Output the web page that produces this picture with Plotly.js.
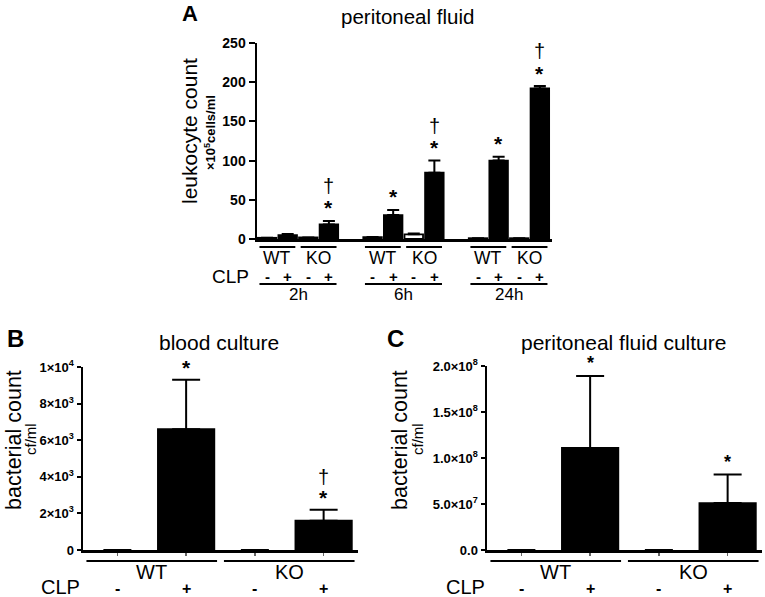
<!DOCTYPE html>
<html>
<head>
<meta charset="utf-8">
<script src="https://cdn.plot.ly/plotly-3.0.1.min.js"></script>
<style>html,body{margin:0;padding:0;background:#fff;}#chart{width:765px;height:597px;}</style>
</head>
<body>
<div id="chart"></div>
<script>
// ---------- data ----------
const timeLabels = ['2h', '6h', '24h'];
const genotypeLabels = ['WT', 'KO'];
const clpLabels = ['-', '+'];

// Panel A: leukocyte count (x10^5 cells/ml), order per time: WT-, WT+, KO-, KO+
const leukoMean = [1.5, 5, 2, 18.5, 2.5, 30.5, 6, 84.5, 1, 100, 1, 192];
const leukoSem = [null, 1.5, null, 4.5, null, 6.5, 1, 15.5, null, 5, null, 3];
const leukoStar = [0, 0, 0, 1, 0, 1, 0, 1, 0, 1, 0, 1];
const leukoDagger = [0, 0, 0, 1, 0, 0, 0, 1, 0, 0, 0, 1];
const leukoTicks = [0, 50, 100, 150, 200, 250];

// Panel B: blood culture (cf/ml), order: WT-, WT+, KO-, KO+
const bloodMean = [0, 6600, 0, 1600];
const bloodSem = [null, 2700, null, 600];
const bloodStar = [0, 1, 0, 1];
const bloodDagger = [0, 0, 0, 1];
const bloodTickVals = [0, 2000, 4000, 6000, 8000, 10000];
const bloodTickText = ['0', '2×10<sup>3</sup>', '4×10<sup>3</sup>', '6×10<sup>3</sup>', '8×10<sup>3</sup>', '1×10<sup>4</sup>'];

// Panel C: peritoneal fluid culture (cf/ml)
const pfMean = [0, 1.11e8, 0, 5.1e7];
const pfSem = [null, 0.78e8, null, 0.31e8];
const pfStar = [0, 1, 0, 1];
const pfDagger = [0, 0, 0, 0];
const pfTickVals = [0, 5e7, 1e8, 1.5e8, 2e8];
const pfTickText = ['0.0', '5.0×10<sup>7</sup>', '1.0×10<sup>8</sup>', '1.5×10<sup>8</sup>', '2.0×10<sup>8</sup>'];

// ---------- layout helpers ----------
const W = 765, H = 597;
const FONT = 'Liberation Sans, Arial, Helvetica, sans-serif';
const px = v => v / W;
const py = v => 1 - v / H;
const GROUP_STEP = 5.12;

const xA = leukoMean.map((_, i) => Math.floor(i / 4) * GROUP_STEP + (i % 4));
const xBC = bloodMean.map((_, i) => i);
const fillFor = i => (i % 2 === 0 ? '#ffffff' : '#000000');

function barTrace(x, y, err, xa, ya, width, cap) {
  return {
    type: 'bar', x: x, y: y, xaxis: xa, yaxis: ya, width: width,
    marker: { color: y.map((_, i) => fillFor(i)),
              line: { color: '#000', width: y.map(v => (v > 0 ? 1.8 : 0)) } },
    error_y: { type: 'data', symmetric: false, array: err, arrayminus: err.map(() => 0),
               color: '#000', thickness: 2, width: cap, visible: true },
    hoverinfo: 'skip', showlegend: false
  };
}

const traces = [
  barTrace(xA, leukoMean, leukoSem, 'x', 'y', 0.9, 6),
  barTrace(xBC, bloodMean, bloodSem, 'x2', 'y2', 0.82, 14),
  barTrace(xBC, pfMean, pfSem, 'x3', 'y3', 0.82, 14)
];

const axisBase = {
  showgrid: false, zeroline: false, showline: true, linecolor: '#000', linewidth: 2.5,
  fixedrange: true
};
const yBase = Object.assign({}, axisBase, {
  ticks: 'outside', tickcolor: '#000', tickwidth: 2, tickmode: 'array',
  tickfont: { family: FONT, size: 13, color: '#000', weight: 'bold' }
});

const annotations = [];
const shapes = [];
function txt(text, xref, x, y, size, opts) {
  annotations.push(Object.assign({
    text: text, xref: xref, yref: 'paper', x: x, y: y, showarrow: false,
    xanchor: 'center', yanchor: 'middle',
    font: { family: FONT, size: size, color: '#000' }
  }, opts || {}));
}
function hline(xref, x0, x1, y) {
  shapes.push({ type: 'line', xref: xref, yref: 'paper', x0: x0, x1: x1, y0: y, y1: y,
                line: { color: '#000', width: 2 } });
}
function marks(xs, means, sems, stars, daggers, xref, yref, starShift, dagShift, starSize) {
  xs.forEach((x, i) => {
    const top = means[i] + (sems[i] || 0);
    if (stars[i]) annotations.push({ text: '<b>*</b>', xref: xref, yref: yref, x: x, y: top,
      yshift: starShift, showarrow: false, yanchor: 'middle',
      font: { family: FONT, size: starSize, color: '#000' } });
    if (daggers[i]) annotations.push({ text: '†', xref: xref, yref: yref, x: x, y: top,
      yshift: dagShift, showarrow: false, yanchor: 'middle',
      font: { family: FONT, size: 20, color: '#000' } });
  });
}

// ----- Panel A annotations -----
txt('<b>A</b>', 'paper', px(190), py(14), 22);
txt('peritoneal fluid', 'paper', px(407), py(17), 20.5);
txt('leukocyte count', 'paper', px(189), py(131), 21, { textangle: -90 });
txt('<b>×10<sup>5</sup>cells/ml</b>', 'paper', px(210), py(133), 13, { textangle: -90 });
txt('CLP', 'paper', px(230), py(276), 19);
timeLabels.forEach((t, g) => {
  const base = g * GROUP_STEP;
  genotypeLabels.forEach((gt, p) => {
    const c = base + 2 * p + 0.5;
    hline('x', c - 0.87, c + 0.87, py(247));
    txt(gt, 'x', c, py(257.5), 17.5);
    clpLabels.forEach((s, k) => txt('<b>' + s + '</b>', 'x', base + 2 * p + k, py(276), 15));
  });
  hline('x', base - 0.37, base + 3.37, py(284));
  txt(t, 'x', base + 1.5, py(294), 17);
});
marks(xA, leukoMean, leukoSem, leukoStar, leukoDagger, 'x', 'y', 13, 35, 21);

// ----- Panel B / C annotations -----
function lowerPanel(xref, letter, letterX, titleX, titleText, yTitleX, unitX, clpX) {
  txt('<b>' + letter + '</b>', 'paper', px(letterX), py(338), 24);
  txt(titleText, 'paper', px(titleX), py(342), 21);
  txt('bacterial count', 'paper', px(yTitleX), py(440), 21.5, { textangle: -90 });
  txt('cf/ml', 'paper', px(unitX), py(439), 15, { textangle: -90 });
  txt('CLP', 'paper', px(clpX), py(587), 20);
  genotypeLabels.forEach((gt, p) => {
    const c = 2 * p + 0.5;
    hline(xref, c - 0.95, c + 0.95, py(561));
    txt(gt, xref, c, py(572), 20);
    clpLabels.forEach((s, k) => txt('<b>' + s + '</b>', xref, 2 * p + k, py(588), 16));
  });
}
lowerPanel('x2', 'B', 16, 219, 'blood culture', 14, 30, 61);
lowerPanel('x3', 'C', 395, 623, 'peritoneal fluid culture', 400, 417, 466);
marks(xBC, bloodMean, bloodSem, bloodStar, bloodDagger, 'x2', 'y2', 12, 33, 21);
marks(xBC, pfMean, pfSem, pfStar, pfDagger, 'x3', 'y3', 13, 30, 18);

const layout = {
  width: W, height: H, margin: { l: 0, r: 0, t: 0, b: 0 },
  paper_bgcolor: '#fff', plot_bgcolor: 'rgba(0,0,0,0)',
  font: { family: FONT, color: '#000' },
  showlegend: false, bargap: 0,
  xaxis: Object.assign({}, axisBase, { domain: [px(257), px(552)], range: [-0.49, 13.83],
    showticklabels: false, ticks: '', anchor: 'y' }),
  yaxis: Object.assign({}, yBase, { domain: [py(239), py(43)], range: [0, 250],
    tickvals: leukoTicks, ticktext: leukoTicks.map(String), ticklen: 6,
    tickfont: { family: FONT, size: 14, color: '#000', weight: 'bold' }, anchor: 'x' }),
  xaxis2: Object.assign({}, axisBase, { domain: [px(83), px(358)], range: [-0.5, 3.5],
    showticklabels: false, ticks: 'outside', ticklen: 3, tickwidth: 1.5, tickcolor: '#666',
    tickmode: 'array', tickvals: xBC, anchor: 'y2' }),
  yaxis2: Object.assign({}, yBase, { domain: [py(550), py(367)], range: [0, 10000],
    tickvals: bloodTickVals, ticktext: bloodTickText, ticklen: 4, anchor: 'x2' }),
  xaxis3: Object.assign({}, axisBase, { domain: [px(487), px(762)], range: [-0.5, 3.5],
    showticklabels: false, ticks: 'outside', ticklen: 3, tickwidth: 1.5, tickcolor: '#666',
    tickmode: 'array', tickvals: xBC, anchor: 'y3' }),
  yaxis3: Object.assign({}, yBase, { domain: [py(550), py(366)], range: [0, 2e8],
    tickvals: pfTickVals, ticktext: pfTickText, ticklen: 4, anchor: 'x3' }),
  annotations: annotations,
  shapes: shapes
};

Plotly.newPlot('chart', traces, layout, { displayModeBar: false, staticPlot: true });
</script>
</body>
</html>
